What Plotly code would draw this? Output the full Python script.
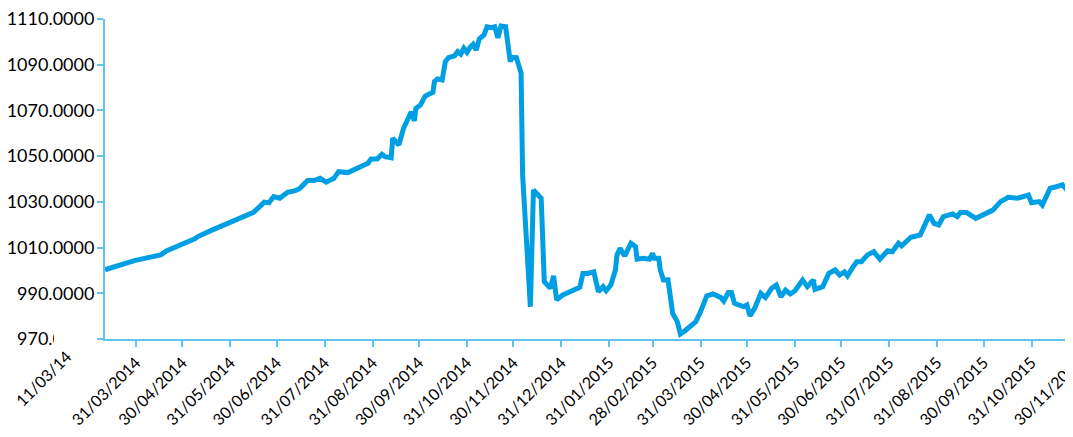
import plotly.graph_objects as go

dates = [
    "2014-03-11", "2014-03-30", "2014-04-16", "2014-04-20", "2014-05-08", "2014-05-10", "2014-05-18",
    "2014-06-02", "2014-06-09", "2014-06-15", "2014-06-20", "2014-06-22", "2014-06-25", "2014-06-28",
    "2014-07-02", "2014-07-07", "2014-07-12", "2014-07-15", "2014-07-20", "2014-07-24", "2014-07-28",
    "2014-08-01", "2014-08-06", "2014-08-09", "2014-08-15", "2014-08-21", "2014-08-28", "2014-08-30",
    "2014-09-03", "2014-09-06", "2014-09-08", "2014-09-12", "2014-09-13", "2014-09-17", "2014-09-19",
    "2014-09-20", "2014-09-25", "2014-09-27", "2014-09-28", "2014-10-01", "2014-10-04", "2014-10-09",
    "2014-10-10", "2014-10-12", "2014-10-15", "2014-10-17", "2014-10-19", "2014-10-23", "2014-10-25",
    "2014-10-27", "2014-10-29", "2014-10-31", "2014-11-02", "2014-11-04", "2014-11-06", "2014-11-08",
    "2014-11-11", "2014-11-13", "2014-11-16", "2014-11-18", "2014-11-20", "2014-11-22", "2014-11-25",
    "2014-11-28", "2014-11-29", "2014-12-02", "2014-12-05", "2014-12-06", "2014-12-11", "2014-12-13",
    "2014-12-18", "2014-12-19", "2014-12-20", "2014-12-24", "2014-12-26", "2014-12-28", "2015-01-01",
    "2015-01-12", "2015-01-14", "2015-01-17", "2015-01-21", "2015-01-24", "2015-01-27", "2015-01-29",
    "2015-02-01", "2015-02-04", "2015-02-05", "2015-02-07", "2015-02-10", "2015-02-14", "2015-02-17",
    "2015-02-18", "2015-02-22", "2015-02-26", "2015-02-28", "2015-03-01", "2015-03-04", "2015-03-05",
    "2015-03-07", "2015-03-10", "2015-03-13", "2015-03-16", "2015-03-18", "2015-03-21", "2015-03-24",
    "2015-03-28", "2015-03-31", "2015-04-02", "2015-04-04", "2015-04-08", "2015-04-13", "2015-04-15",
    "2015-04-18", "2015-04-20", "2015-04-22", "2015-04-28", "2015-04-30", "2015-05-02", "2015-05-05",
    "2015-05-09", "2015-05-12", "2015-05-16", "2015-05-19", "2015-05-22", "2015-05-25", "2015-05-28",
    "2015-05-31", "2015-06-05", "2015-06-08", "2015-06-12", "2015-06-13", "2015-06-18", "2015-06-22",
    "2015-06-26", "2015-06-29", "2015-07-02", "2015-07-04", "2015-07-07", "2015-07-10", "2015-07-13",
    "2015-07-17", "2015-07-21", "2015-07-25", "2015-07-30", "2015-08-02", "2015-08-06", "2015-08-08",
    "2015-08-14", "2015-08-20", "2015-08-26", "2015-08-29", "2015-09-01", "2015-09-04", "2015-09-10",
    "2015-09-13", "2015-09-15", "2015-09-19", "2015-09-25", "2015-09-30", "2015-10-06", "2015-10-11",
    "2015-10-16", "2015-10-22", "2015-10-26", "2015-10-29", "2015-10-31", "2015-11-05", "2015-11-07",
    "2015-11-12", "2015-11-16", "2015-11-20", "2015-11-22", "2015-11-26", "2015-11-30",
]

values = [
    1000.3, 1004.3, 1006.8, 1008.6, 1013.8, 1014.8, 1017.3,
    1021.6, 1023.5, 1025.4, 1028.6, 1029.9, 1029.6, 1032.3,
    1031.6, 1034.2, 1034.9, 1035.9, 1039.3, 1039.3, 1040.3,
    1038.6, 1040.3, 1043.2, 1042.8, 1044.7, 1046.9, 1048.8,
    1048.8, 1050.8, 1049.8, 1049.3, 1057.8, 1054.9, 1061.0,
    1062.2, 1069.4, 1065.4, 1070.9, 1072.4, 1076.3, 1077.9,
    1082.6, 1083.8, 1083.3, 1091.3, 1093.1, 1093.9, 1095.7,
    1094.6, 1097.2, 1095.4, 1097.6, 1098.9, 1096.4, 1101.3,
    1103.0, 1106.6, 1106.2, 1106.6, 1101.8, 1106.9, 1106.6,
    1091.3, 1093.2, 1093.1, 1086.3, 1041.8, 984.1, 1035.2,
    1031.6, 1001.6, 995.1, 992.2, 997.6, 987.1, 989.3,
    992.6, 998.7, 998.7, 999.4, 990.7, 992.9, 991.1,
    993.6, 1000.2, 1006.8, 1009.7, 1006.3, 1011.9, 1010.4,
    1004.9, 1005.3, 1004.9, 1007.5, 1005.3, 1005.3, 1000.2,
    995.8, 995.9, 981.2, 977.6, 972.2, 973.6, 975.4,
    977.6, 981.9, 984.9, 988.8, 989.7, 988.2, 986.6,
    990.3, 990.3, 985.6, 984.1, 984.9, 980.1, 983.4,
    990.0, 988.2, 992.2, 993.6, 988.5, 991.4, 989.7,
    991.0, 995.8, 992.9, 995.8, 991.7, 992.9, 998.7,
    1000.2, 998.0, 999.4, 997.6, 1000.9, 1003.8, 1003.8,
    1006.8, 1008.2, 1004.9, 1008.6, 1008.2, 1011.9, 1010.7,
    1014.5, 1015.5, 1024.3, 1020.6, 1019.9, 1023.5, 1024.7,
    1023.5, 1025.3, 1025.3, 1022.8, 1024.7, 1026.4, 1030.1,
    1032.0, 1031.6, 1032.3, 1033.0, 1029.6, 1030.1, 1028.6,
    1035.9, 1036.6, 1037.4, 1035.9, 1039.6, 1041.0,
]

tick_dates = [
    "2014-03-31", "2014-04-30", "2014-05-31", "2014-06-30", "2014-07-31", "2014-08-31",
    "2014-09-30", "2014-10-31", "2014-11-30", "2014-12-31", "2015-01-31", "2015-02-28",
    "2015-03-31", "2015-04-30", "2015-05-31", "2015-06-30", "2015-07-31", "2015-08-31",
    "2015-09-30", "2015-10-31", "2015-11-30",
]
tick_labels = [
    "31/03/2014", "30/04/2014", "31/05/2014", "30/06/2014", "31/07/2014", "31/08/2014",
    "30/09/2014", "31/10/2014", "30/11/2014", "31/12/2014", "31/01/2015", "28/02/2015",
    "31/03/2015", "30/04/2015", "31/05/2015", "30/06/2015", "31/07/2015", "31/08/2015",
    "30/09/2015", "31/10/2015", "30/11/2015",
]
first_label = "11/03/14"
first_date = "2014-03-11"

y_ticks = [970, 990, 1010, 1030, 1050, 1070, 1090, 1110]
y_labels = ["970.0000", "990.0000", "1010.0000", "1030.0000", "1050.0000",
            "1070.0000", "1090.0000", "1110.0000"]

LINE = "#009FE3"
AXIS = "#62C3EE"
FONT = "Lato"

fig = go.Figure()
fig.add_trace(go.Scatter(
    x=dates, y=values, mode="lines",
    line=dict(color=LINE, width=5),
    showlegend=False, hoverinfo="skip",
))

fig.update_layout(
    width=1073, height=437,
    margin=dict(l=97, r=0, t=11, b=106),
    paper_bgcolor="white", plot_bgcolor="white",
    font=dict(family=FONT, size=17, color="#000000"),
    xaxis=dict(
        type="date", automargin=False,
        range=["2014-03-11", "2015-12-02"],
        tickvals=tick_dates, ticktext=tick_labels,
        tickangle=-45, tickfont=dict(family=FONT, size=16),
        ticklabeloverflow="allow",
        showgrid=False, zeroline=False,
        showline=True, linecolor=AXIS, linewidth=2,
        ticks="outside", ticklen=6, tickwidth=2, tickcolor=AXIS,
    ),
    yaxis=dict(
        automargin=False,
        range=[970, 1110],
        tickvals=y_ticks, ticktext=y_labels,
        tickfont=dict(family=FONT, size=18),
        ticklabeloverflow="allow",
        showgrid=False, zeroline=False,
        showline=True, linecolor=AXIS, linewidth=2,
        ticks="outside", ticklen=6, tickwidth=2, tickcolor=AXIS,
        ticklabelstandoff=-1,
    ),
    annotations=[
        dict(x=first_date, y=0, xref="x", yref="paper", text=first_label,
             showarrow=False, textangle=-45, xanchor="right", yanchor="top",
             xshift=-28, yshift=-5, font=dict(family=FONT, size=16)),
    ],
    shapes=[
        dict(type="rect", xref="paper", yref="paper", layer="above",
             x0=-0.0522, x1=-0.0082, y0=-0.03, y1=0.03,
             fillcolor="white", line=dict(width=0)),
    ],
)

fig.write_html("out.html")
